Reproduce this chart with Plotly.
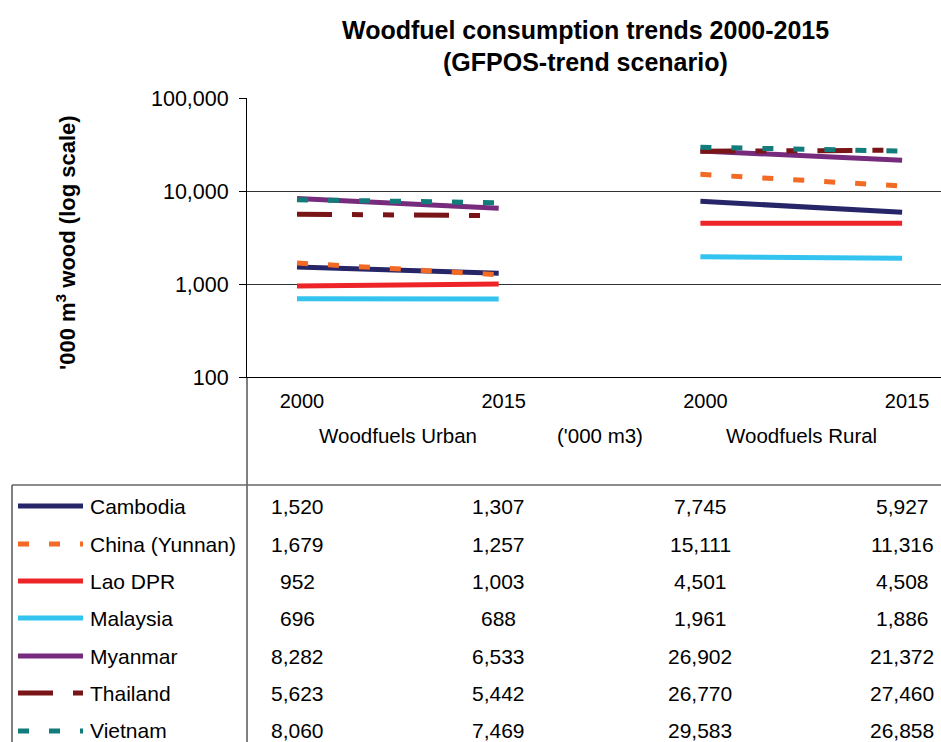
import plotly.graph_objects as go

# data
countries = ['Cambodia', 'China (Yunnan)', 'Lao DPR', 'Malaysia', 'Myanmar', 'Thailand', 'Vietnam']
urban_2000 = [1520, 1679, 952, 696, 8282, 5623, 8060]
urban_2015 = [1307, 1257, 1003, 688, 6533, 5442, 7469]
rural_2000 = [7745, 15111, 4501, 1961, 26902, 26770, 29583]
rural_2015 = [5927, 11316, 4508, 1886, 21372, 27460, 26858]
year_labels = ['2000', '2015', '2000', '2015']
group_labels = ['Woodfuels Urban', "('000 m3)", 'Woodfuels Rural']
title_lines = ['Woodfuel consumption trends 2000-2015', '(GFPOS-trend scenario)']

colors = ['#262568', '#F26A23', '#EE2528', '#33C3EF', '#762B7C', '#7A1517', '#127C7B']
dashes = ['solid', '11px,20px', 'solid', 'solid', 'solid',
          '35px,20px,11px,20px,11px,20px', '11px,20px']

W, H = 941, 742
L, T, B = 247, 98, 365
PW, PH = W - L, H - T - B
FONT = 'Liberation Sans, Arial, sans-serif'


def px_x(p):
    return (p - L) / PW


def px_y(p):
    return (H - B - p) / PH


fig = go.Figure()

pos = list(range(len(year_labels)))
for i, name in enumerate(countries):
    xs = [pos[0], pos[1], None, pos[2], pos[3]]
    ys = [urban_2000[i], urban_2015[i], None, rural_2000[i], rural_2015[i]]
    fig.add_trace(go.Scatter(
        x=xs, y=ys, mode='lines', name=name,
        line=dict(color=colors[i], width=5, dash=dashes[i]),
        showlegend=False
    ))

fig.update_layout(
    width=W, height=H,
    margin=dict(l=L, r=0, t=T, b=B),
    paper_bgcolor='white', plot_bgcolor='white',
    font=dict(family=FONT, color='black'),
)

fig.update_xaxes(
    range=[-50 / 201.7, (W - 297) / 201.7],
    tickvals=pos, ticktext=year_labels,
    tickfont=dict(size=20), ticks='', ticklabelstandoff=6, ticklabelshift=5,
    showgrid=False, zeroline=False,
    showline=True, linecolor='black', linewidth=1
)
fig.update_yaxes(
    type='log', range=[2, 5],
    tickvals=[100, 1000, 10000, 100000],
    ticktext=['100', '1,000', '10,000', '100,000'],
    tickfont=dict(size=21.5), ticks='outside', ticklen=7, tickcolor='black',
    ticklabelstandoff=6,
    showgrid=True, gridcolor='#333', gridwidth=1,
    showline=True, linecolor='black', linewidth=1, zeroline=False
)

annotations = []
# title, two lines
for line, yy in zip(title_lines, [30, 62]):
    annotations.append(dict(
        text=f'<b>{line}</b>', xref='paper', yref='paper',
        x=px_x(585), y=px_y(yy), yanchor='middle',
        showarrow=False, font=dict(size=25)
    ))
# y axis title
annotations.append(dict(
    text="<b>'000 m<sup>3</sup> wood (log scale)</b>", textangle=-90,
    xref='paper', yref='paper', x=px_x(66), y=px_y(242),
    xanchor='center', yanchor='middle',
    showarrow=False, font=dict(size=22)
))
# group labels under x axis
for k, g in enumerate(group_labels):
    annotations.append(dict(
        text=g, xref='x', yref='paper', x=k + 0.5, y=px_y(435),
        yanchor='middle', showarrow=False, font=dict(size=20.5)
    ))

# data table
row_y = [506, 544, 581, 618, 656, 693, 731]
shapes = []
for i, name in enumerate(countries):
    yp = px_y(row_y[i])
    annotations.append(dict(
        text=name, xref='paper', yref='paper', x=px_x(88), y=yp,
        xanchor='left', yanchor='middle', showarrow=False, font=dict(size=21)
    ))
    for k, vals in enumerate([urban_2000, urban_2015, rural_2000, rural_2015]):
        annotations.append(dict(
            text=f'{vals[i]:,}', xref='x', yref='paper', x=pos[k], y=yp,
            yanchor='middle', showarrow=False, font=dict(size=21)
        ))
    shapes.append(dict(
        type='line', xref='paper', yref='paper',
        x0=px_x(18), x1=px_x(83), y0=yp, y1=yp,
        line=dict(color=colors[i], width=5, dash=dashes[i])
    ))

# table borders
shapes.append(dict(type='line', xref='paper', yref='paper',
                   x0=0, x1=0, y0=0, y1=px_y(H), line=dict(color='black', width=1)))
shapes.append(dict(type='line', xref='paper', yref='paper',
                   x0=px_x(12), x1=px_x(12), y0=px_y(485), y1=px_y(H),
                   line=dict(color='black', width=1)))
shapes.append(dict(type='line', xref='paper', yref='paper',
                   x0=px_x(12), x1=1, y0=px_y(485), y1=px_y(485),
                   line=dict(color='#666', width=1.5)))

fig.update_layout(annotations=annotations, shapes=shapes)

fig.write_html("out.html", config={'displayModeBar': False},
               post_script="document.body.style.margin='0';")
